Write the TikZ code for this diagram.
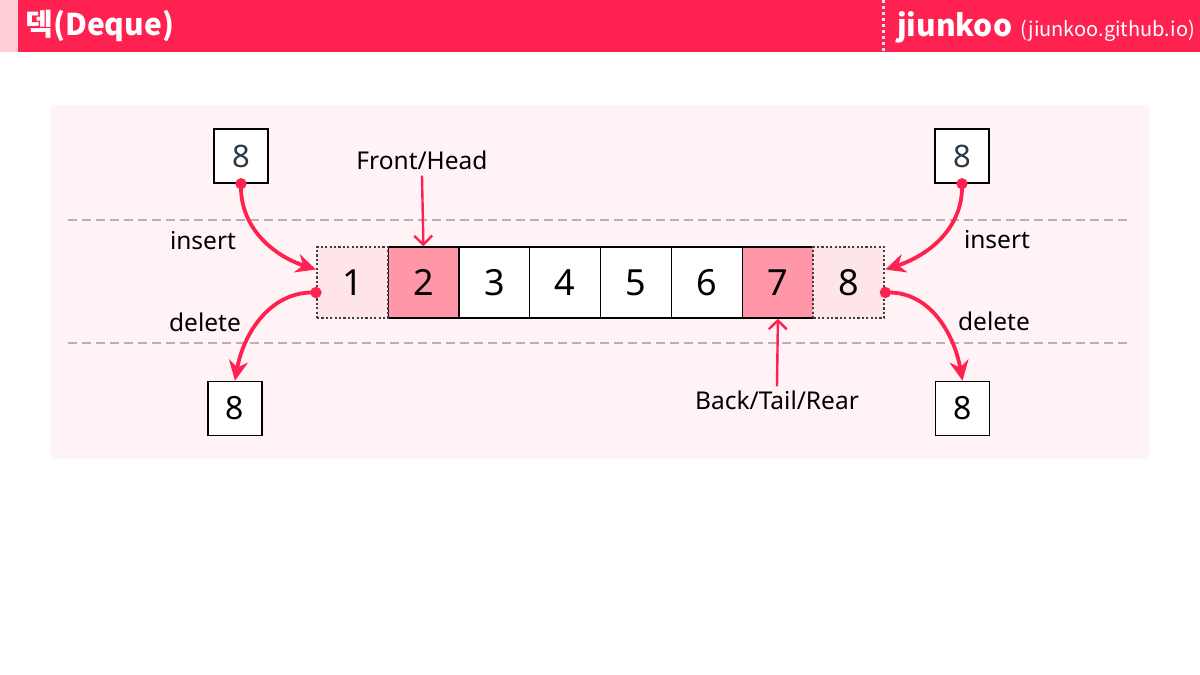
\documentclass[tikz,border=0pt]{standalone}
\usepackage{fontspec}
\setmainfont{Noto Sans}
\newfontfamily\kfont{Noto Sans CJK KR}
\usetikzlibrary{arrows.meta}
\definecolor{dqred}{HTML}{FF2251}
\definecolor{dqstrip}{HTML}{FFCDD6}
\definecolor{dqpanel}{HTML}{FFF3F5}
\definecolor{dqlight}{HTML}{FFE4EA}
\definecolor{dqdark}{HTML}{FF97A8}
\definecolor{dqgray}{HTML}{B4B4B4}
\definecolor{dqink}{HTML}{2B3A42}
\tikzset{
  cell/.style={draw=black, line width=1.4pt, fill=white, minimum size=70.9pt,
    inner sep=0pt, font=\fontsize{36}{38}\selectfont},
  endcell/.style={cell, fill=dqlight, draw=black!75, dash pattern=on 2.2pt off 2.2pt, line width=2.2pt},
  valbox/.style={draw=black, line width=1.4pt, fill=white, minimum size=54pt,
    inner sep=0pt, font=\fontsize{31}{33}\selectfont},
  lbl/.style={font=\fontsize{24.5}{28}\selectfont, inner sep=2pt},
  flow/.style={dqred, line width=3.8pt, shorten <=-5.5pt,
    {Circle[length=11pt]}-{Stealth[length=20pt,width=19pt]}},
  ptr/.style={dqred, line width=2.4pt, -{Straight Barb[length=9pt,width=18pt]}},
  guide/.style={dqgray, line width=1.8pt, dash pattern=on 9pt off 5pt}
}
\begin{document}
\begin{tikzpicture}[x=1pt,y=-1pt]
\useasboundingbox (0,0) rectangle (1200,675);
%% Kopfzeile
\fill[dqstrip] (0,0) rectangle (18,52);
\fill[dqred] (18,0) rectangle (1200,52);
\draw[white!80!cyan, line width=3pt, dash pattern=on 3pt off 3pt] (883,0) -- (883,52);
\node[anchor=west, text=white, font=\kfont\bfseries\fontsize{30}{34}\selectfont] (title) at (22,26) {덱(Deque)};
\node[anchor=west, text=white, inner sep=0pt, font=\kfont] (brand) at (897,27)
  {{\bfseries\fontsize{30}{34}\selectfont jiunkoo}\hspace{8pt}{\fontsize{20}{24}\selectfont (jiunkoo.github.io)}};
%% Hintergrund
\fill[dqpanel] (51,105) rectangle (1149,459);
\draw[guide] (68,220) -- (1132,220);
\draw[guide] (68,343) -- (1132,343);
%% Zellen
\node[cell, fill=dqdark] (c2) at (423.4,282.5) {2};
\node[cell] (c3) at (494.3,282.5) {3};
\node[cell] (c4) at (565.2,282.5) {4};
\node[cell] (c5) at (636.1,282.5) {5};
\node[cell] (c6) at (707.0,282.5) {6};
\node[cell, fill=dqdark] (c7) at (777.9,282.5) {7};
\node[endcell] (c1) at (352.5,282.5) {1};
\node[endcell] (c8) at (848.8,282.5) {8};
%% Werte
\node[valbox, text=dqink] (insL) at (241,156) {8};
\node[valbox, text=dqink] (insR) at (962,156) {8};
\node[valbox, font=\fontsize{32}{34}\selectfont] (delL) at (235,408.5) {8};
\node[valbox, font=\fontsize{32}{34}\selectfont] (delR) at (962.5,408.5) {8};
%% Beschriftungen
\node[lbl] (insLtxt) at (203,241) {insert};
\node[lbl] (delLtxt) at (205,322) {delete};
\node[lbl] (insRtxt) at (997,240) {insert};
\node[lbl] (delRtxt) at (994,321) {delete};
\node[lbl] (front) at (422,160) {Front/Head};
\node[lbl] (back) at (777,400) {Back/Tail/Rear};
%% Pfeile
\draw[flow] (insL.south) to[out=-90,in=162] ([yshift=13pt]c1.west);
\draw[flow] ([yshift=-10pt]c1.west) to[out=180,in=80] (delL.north);
\draw[flow] (insR.south) to[out=-90,in=18] ([yshift=13pt]c8.east);
\draw[flow] ([yshift=-10pt]c8.east) to[out=0,in=100] (delR.north);
\draw[ptr] ([yshift=-4pt]front.south) -- (c2.north);
\draw[ptr] ([yshift=2pt]back.north) -- (c7.south);
\end{tikzpicture}
\end{document}
